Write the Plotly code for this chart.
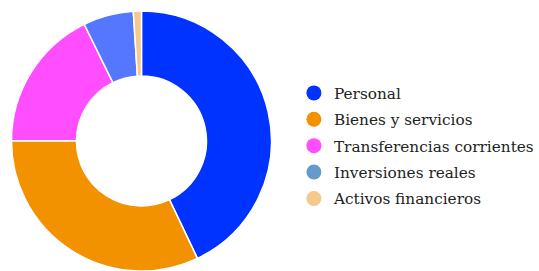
import plotly.graph_objects as go

categories = ["Personal", "Bienes y servicios", "Transferencias corrientes", "Inversiones reales", "Activos financieros"]
values = [42.9, 32.1, 17.7, 6.25, 1.0]
slice_colors = ["#0033ff", "#f39200", "#ff4dff", "#5577ff", "#f5c88c"]
legend_colors = ["#0033ff", "#f39200", "#ff4dff", "#6699cc", "#f5c88c"]

W, H = 539, 271
fig = go.Figure()
fig.add_trace(go.Pie(
    labels=categories, values=values, sort=False, direction="clockwise", rotation=0,
    hole=0.5, marker=dict(colors=slice_colors, line=dict(color="white", width=1.5)),
    textinfo="none", hoverinfo="label+percent", showlegend=False,
    domain=dict(x=[0, 284 / W], y=[0, 1]),
))
for name, c in zip(categories, legend_colors):
    fig.add_trace(go.Scatter(x=[None], y=[None], mode="markers", name=name, legendgroup=name,
                             marker=dict(color=c, size=15, symbol="circle")))

fig.update_layout(
    width=W, height=H, margin=dict(l=0, r=0, t=11, b=0),
    paper_bgcolor="white", plot_bgcolor="white",
    xaxis=dict(visible=False), yaxis=dict(visible=False),
    legend=dict(x=295 / W, y=0.481, xanchor="left", yanchor="middle",
                font=dict(family="DejaVu Serif", size=15.3, color="#222222"),
                itemwidth=30, tracegroupgap=3.5, traceorder="grouped"),
)
fig.write_html("out.html", config={"displayModeBar": False},
               post_script="document.body.style.margin='0';")
